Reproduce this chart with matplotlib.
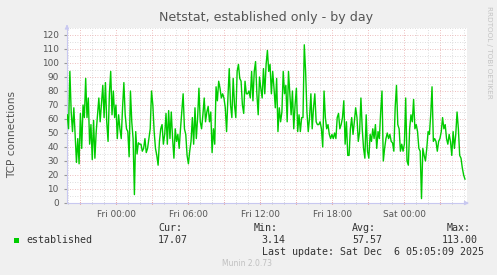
# netstat established - by day (munin style)

import numpy as np
import matplotlib
matplotlib.use('Agg')
import matplotlib.pyplot as plt
from matplotlib.ticker import FixedLocator, MultipleLocator, FuncFormatter
from matplotlib.patches import Rectangle

# hours relative to Fri 00:00
t_start = -4.08
t_end = 29.06
view_start = -4.1
view_end = 29.23

established = [
    63, 53, 94, 65, 51, 68, 49, 29, 46, 28, 64, 39, 70, 61, 89, 61, 75, 42, 56, 31,
    59, 32, 51, 63, 75, 58, 71, 84, 61, 86, 58, 44, 78, 94, 63, 80, 61, 70, 46, 63, 53,
    46, 68, 86, 63, 53, 51, 33, 80, 58, 46, 6, 51, 35, 43, 42, 42, 37, 39, 46, 36,
    39, 46, 53, 80, 70, 51, 39, 34, 27, 44, 53, 56, 42, 49, 64, 42, 66, 46, 65, 46,
    32, 53, 44, 49,
    39, 53, 65, 78, 53, 49, 34, 28, 37, 44, 61, 42, 68, 46, 61, 82, 58, 53, 63, 75,
    58, 65, 69, 58, 65, 36, 53, 42, 83, 73, 87, 82, 75, 78, 75, 68, 51, 75, 96, 70,
    61, 89, 70,
    61, 94, 99, 89, 87, 70, 64, 87, 78, 78, 80, 75, 94, 73, 94, 101, 78, 63, 90, 82,
    75, 96, 78, 99, 109, 94, 99, 78, 94, 82, 68, 89, 51, 68, 58, 65, 94, 78, 84, 58,
    94, 78, 63,
    80, 53, 70, 82, 51, 63, 51, 61, 61, 113, 94, 65, 51, 61, 78, 53, 68, 78, 58, 56,
    56, 58, 53, 40, 80, 61, 53, 56, 49, 46, 49, 46, 50, 46, 61, 64, 53, 56, 61, 73,
    42, 58, 34,
    34, 53, 61, 49, 58, 68, 61, 44, 51, 75, 53, 39, 32, 63, 37, 32, 49, 44, 53, 46,
    56, 39, 51, 46, 65, 80, 30, 39, 46, 50, 46, 49, 44, 43, 37, 68, 84, 56, 53, 37,
    42, 37, 42,
    75, 30, 27, 53, 63, 58, 74, 53, 56, 51, 39, 37, 3.14, 39, 34, 30, 39, 51, 49, 63,
    83, 44, 46, 44, 37, 44, 46, 51, 61, 53, 56, 46, 42, 49, 44, 34, 51, 39, 49, 65,
    53, 34, 32, 25, 20, 17.07,
]

x_labels = ['Fri 00:00', 'Fri 06:00', 'Fri 12:00', 'Fri 18:00', 'Sat 00:00']
x_label_hours = [0, 6, 12, 18, 24]

stat_names = ['Cur:', 'Min:', 'Avg:', 'Max:']
stat_values = ['17.07', '3.14', '57.57', '113.00']

W, H = 497, 275
bg = '#f0f0f0'
fig = plt.figure(figsize=(W / 100, H / 100), dpi=100, facecolor=bg)
ax = fig.add_axes([67 / W, 1 - 203 / H, 400 / W, 175 / H])
ax.set_facecolor('white')

times = np.linspace(t_start, t_end, len(established))
ax.plot(times, established, color='#00cc00', linewidth=1.0, zorder=3)

ax.set_xlim(view_start, view_end)
ax.set_ylim(0, 125)

# grid: grey every hour / 5, red every 3h / 10
major_x = np.arange(-3, 30, 3)
ax.xaxis.set_major_locator(FixedLocator(major_x))
ax.xaxis.set_minor_locator(MultipleLocator(1))
lab = dict(zip(x_label_hours, x_labels))
ax.xaxis.set_major_formatter(FuncFormatter(lambda v, p: lab.get(int(round(v)), '')))
ax.yaxis.set_major_locator(MultipleLocator(10))
ax.yaxis.set_minor_locator(MultipleLocator(5))

ax.grid(which='minor', color='#d4d4d4', linestyle=(0, (1, 2)), linewidth=0.6)
ax.grid(which='major', color='#e8a8a8', linestyle=(0, (1, 2)), linewidth=0.6)
ax.set_axisbelow(True)

for s in ['top', 'right']:
    ax.spines[s].set_visible(False)
for s in ['left', 'bottom']:
    ax.spines[s].set_color('#c8c8f0')
    ax.spines[s].set_linewidth(0.8)

ax.tick_params(axis='both', which='both', labelsize=6.4, labelcolor='#555555')
ax.tick_params(axis='x', which='major', length=2, color='#e07070', direction='inout', pad=4)
ax.tick_params(axis='x', which='minor', length=1.5, color='#bbbbbb', direction='inout')
ax.tick_params(axis='y', which='major', length=2, color='#999999', pad=4)
ax.tick_params(axis='y', which='minor', length=0)

# arrows at axis ends
ax.annotate('', xy=(0, 1.02), xytext=(0, 0.99), xycoords='axes fraction',
            arrowprops=dict(arrowstyle='-|>', color='#c8c8f0', lw=0.8, mutation_scale=6),
            annotation_clip=False)
ax.annotate('', xy=(1.012, 0), xytext=(0.99, 0), xycoords='axes fraction',
            arrowprops=dict(arrowstyle='-|>', color='#c8c8f0', lw=0.8, mutation_scale=6),
            annotation_clip=False)

ax.set_ylabel('TCP connections', fontsize=7.6, color='#555555')
ax.yaxis.set_label_coords(-0.125, 0.39)
fig.text(266 / W, 1 - 18 / H, 'Netstat, established only - by day',
         ha='center', va='center', fontsize=9.1, color='#555555')
fig.text(489 / W, 1 - 52 / H, 'RRDTOOL / TOBI OETIKER', rotation=270,
         ha='center', va='center', fontsize=5.2, color='#c4c4c4')


def px(x, y):
    return x / W, 1 - y / H


mono = dict(family='DejaVu Sans Mono', fontsize=7.2, color='#333333', va='center')

fig.patches.append(Rectangle(px(14, 242.5), 5 / W, 5 / H, transform=fig.transFigure,
                             facecolor='#00cc00', edgecolor='none'))
fig.text(*px(26, 240), 'established', **mono)

name_x = [158, 254, 352, 447]
val_x = [158, 261, 352, 441.5]
for n, v, nx, vx in zip(stat_names, stat_values, name_x, val_x):
    fig.text(*px(nx, 228), n, **mono)
    fig.text(*px(vx, 240), v, **mono)

fig.text(*px(261.5, 252), 'Last update: Sat Dec  6 05:05:09 2025', **mono)
fig.text(*px(247.5, 264), 'Munin 2.0.73', ha='center', va='center',
         fontsize=5.5, color='#c0c0c0')

fig.savefig('out.png', dpi=100, facecolor=bg)
